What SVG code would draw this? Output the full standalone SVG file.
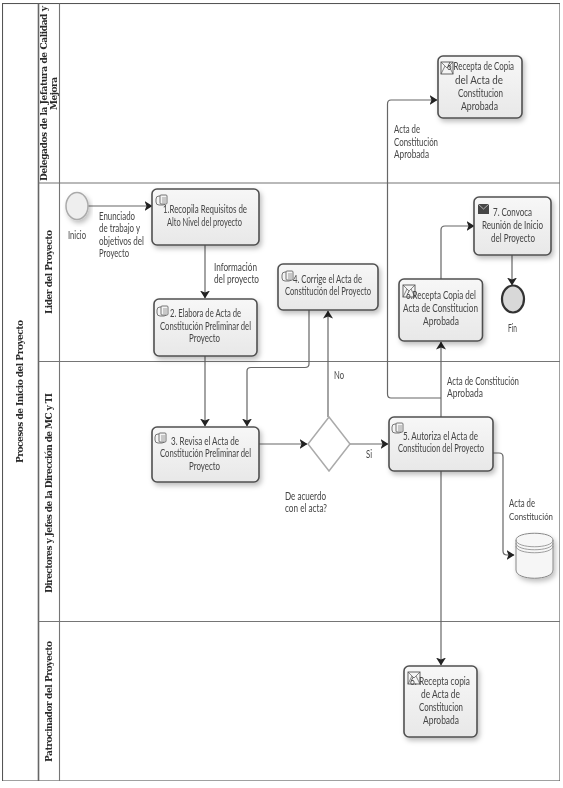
<svg xmlns="http://www.w3.org/2000/svg" width="563" height="788" viewBox="0 0 563 788">
<style>
.lane{fill:none;stroke:#747474;stroke-width:1.100}
.t{font-family:"Lato","Liberation Sans",sans-serif;font-size:10.500px;fill:#444}
.h{font-family:"DejaVu Serif","Liberation Serif",serif;font-weight:bold;font-size:9px;fill:#2a2a2a}
.n{fill:url(#g);stroke:#505050;stroke-width:1.600}
.c{fill:none;stroke:#666;stroke-width:1.200;marker-end:url(#a)}
.i{fill:#f4f4f4;stroke:#666;stroke-width:.9}
</style>
<defs>
<linearGradient id="g" x1="0" y1="0" x2="0" y2="1"><stop offset="0" stop-color="#f7f7f7"/><stop offset="1" stop-color="#e8e8e8"/></linearGradient>
<filter id="s" x="-15%" y="-15%" width="135%" height="140%"><feDropShadow dx="2" dy="3" stdDeviation="2.500" flood-color="#000" flood-opacity=".25"/></filter>
<filter id="b" x="0" y="0" width="100%" height="100%"><feGaussianBlur stdDeviation=".35"/></filter>
<marker id="a" markerUnits="userSpaceOnUse" markerWidth="9" markerHeight="10" refX="7.500" refY="5" orient="auto"><path d="M0 0L8 5L0 10L2 5Z" fill="#222"/></marker>
<symbol id="doc" overflow="visible"><rect class="i" x="0" y="1" width="10" height="9" rx="3"/><rect class="i" x="4" y="0" width="7" height="9" rx="1"/><path d="M6 3h4M6 5h4M6 7h4" stroke="#777" stroke-width=".7"/></symbol>
<symbol id="env" overflow="visible"><rect x="0" y="0" width="12" height="12" fill="#f4f4f4" stroke="#555" stroke-width=".9"/><path d="M0 0L6 6L12 0M0 12L4 4M12 12L8 4" fill="none" stroke="#555" stroke-width=".7"/></symbol>
</defs>
<rect width="563" height="788" fill="#fff"/>
<g filter="url(#b)">
<g id="pool">
<rect class="lane" x="2.500" y="3.500" width="557.500" height="777.500" style="stroke:#555"/>
<path class="lane" d="M38.500 3.500V781" style="stroke-width:1.600;stroke:#666"/>
<path class="lane" d="M59.500 3.500V781M38.500 183H560M38.500 361.500H560M38.500 621.500H560"/>
<text class="h" transform="translate(23 463) rotate(-90)" textLength="143">Procesos de Inicio del Proyecto</text>
<text class="h" transform="translate(47 181) rotate(-90)" textLength="175">Delegados de la Jefatura de Calidad y</text>
<text class="h" transform="translate(57 110) rotate(-90)" textLength="33">Mejora</text>
<text class="h" transform="translate(52 314) rotate(-90)" textLength="84">Lider del Proyecto</text>
<text class="h" transform="translate(52 593) rotate(-90)" textLength="200">Directores y Jefes de la Dirección de MC y TI</text>
<text class="h" transform="translate(52 762) rotate(-90)" textLength="121">Patrocinador del Proyecto</text>
</g>
<g id="connectors">
<path class="c" d="M88 206H152"/>
<path class="c" d="M205 245V298"/>
<path class="c" d="M205 356V426"/>
<path class="c" d="M309 310V364Q309 367.500 305 367.500H251Q247 367.500 247 371V426"/>
<path class="c" d="M259 444H307"/>
<path class="c" d="M328 417V311"/>
<path class="c" d="M350 444H388"/>
<path class="c" d="M441 417V342"/>
<path class="c" d="M441 398H391Q387.500 398 387.500 394V104Q387.500 100 391 100H437"/>
<path class="c" d="M441 279V230Q441 226 445 226H474"/>
<path class="c" d="M512 255V285"/>
<path class="c" d="M441 471V665"/>
<path class="c" d="M493 453H499Q503 453 503 457V551Q503 555 507 555H514"/>
</g>
<g id="start"><ellipse cx="77" cy="206" rx="11" ry="13.500" fill="#eee" stroke="#aaa" stroke-width="1.500" filter="url(#s)"/><text class="t" x="68" y="239" textLength="18" lengthAdjust="spacingAndGlyphs">Inicio</text></g>
<g id="t1"><rect class="n" x="152" y="189" width="107" height="56" rx="5" filter="url(#s)"/><use href="#doc" x="156" y="195"/><text class="t" x="163" y="213" textLength="84" lengthAdjust="spacingAndGlyphs">1.Recopila Requisitos de</text><text class="t" x="167" y="226" textLength="75" lengthAdjust="spacingAndGlyphs">Alto Nivel del proyecto</text></g>
<g id="t2"><rect class="n" x="154" y="299" width="103" height="57" rx="5" filter="url(#s)"/><use href="#doc" x="157" y="306"/><text class="t" x="170" y="317" textLength="71" lengthAdjust="spacingAndGlyphs">2. Elabora de Acta de</text><text class="t" x="160" y="330" textLength="91" lengthAdjust="spacingAndGlyphs">Constitución Preliminar del</text><text class="t" x="189" y="342" textLength="31" lengthAdjust="spacingAndGlyphs">Proyecto</text></g>
<g id="t3"><rect class="n" x="152" y="427" width="107" height="55" rx="5" filter="url(#s)"/><use href="#doc" x="155" y="433"/><text class="t" x="171" y="445" textLength="68" lengthAdjust="spacingAndGlyphs">3. Revisa el Acta de</text><text class="t" x="160" y="457" textLength="91" lengthAdjust="spacingAndGlyphs">Constitución Preliminar del</text><text class="t" x="189" y="470" textLength="31" lengthAdjust="spacingAndGlyphs">Proyecto</text></g>
<g id="t4"><rect class="n" x="278" y="264" width="100" height="46" rx="5" filter="url(#s)"/><use href="#doc" x="282" y="271"/><text class="t" x="293" y="283" textLength="69" lengthAdjust="spacingAndGlyphs">4. Corrige el Acta de</text><text class="t" x="285" y="295" textLength="86" lengthAdjust="spacingAndGlyphs">Constitución del Proyecto</text></g>
<g id="gw"><path d="M329 417L350 444L329 471L308 444Z" fill="#fff" stroke="#aaa" stroke-width="1.500"/></g>
<g id="t5"><rect class="n" x="389" y="417" width="104" height="54" rx="5" filter="url(#s)"/><use href="#doc" x="392" y="423"/><text class="t" x="403" y="440" textLength="75" lengthAdjust="spacingAndGlyphs">5. Autoriza el Acta de</text><text class="t" x="398" y="452" textLength="86" lengthAdjust="spacingAndGlyphs">Constitucion del Proyecto</text></g>
<g id="t6a"><rect class="n" x="438" y="56" width="84" height="62" rx="5" filter="url(#s)"/><use href="#env" x="441" y="62"/><text class="t" x="447" y="70" textLength="67" lengthAdjust="spacingAndGlyphs">6 Recepta de Copia</text><text class="t" x="455" y="84" textLength="48" lengthAdjust="spacingAndGlyphs">del Acta de</text><text class="t" x="458" y="97" textLength="45" lengthAdjust="spacingAndGlyphs">Constitucion</text><text class="t" x="461" y="110" textLength="37" lengthAdjust="spacingAndGlyphs">Aprobada</text></g>
<g id="t6b"><rect class="n" x="399" y="279" width="83.500" height="62" rx="5" filter="url(#s)"/><use href="#env" x="403" y="285"/><text class="t" x="406" y="299" textLength="70" lengthAdjust="spacingAndGlyphs">6.Recepta  Copia del</text><text class="t" x="403" y="312" textLength="75" lengthAdjust="spacingAndGlyphs">Acta de Constitucion</text><text class="t" x="423" y="325" textLength="36" lengthAdjust="spacingAndGlyphs">Aprobada</text></g>
<g id="t7"><rect class="n" x="474" y="197" width="77" height="58" rx="5" filter="url(#s)"/><rect x="478" y="204" width="11" height="10" fill="#444"/><path d="M478 204L483.500 209L489 204" fill="none" stroke="#ccc" stroke-width=".8"/><text class="t" x="493" y="216" textLength="39" lengthAdjust="spacingAndGlyphs">7. Convoca</text><text class="t" x="482" y="229" textLength="61" lengthAdjust="spacingAndGlyphs">Reunión de Inicio</text><text class="t" x="491" y="242" textLength="44" lengthAdjust="spacingAndGlyphs">del Proyecto</text></g>
<g id="end"><ellipse cx="513" cy="299" rx="11" ry="13.500" fill="#d8d8d8" stroke="#333" stroke-width="2.200"/><text class="t" x="508" y="332" textLength="9" lengthAdjust="spacingAndGlyphs">Fin</text></g>
<g id="db"><path d="M516 540C516 531 553 531 553 540V570C553 581 516 581 516 570Z" fill="#f6f6f6" stroke="#888" filter="url(#s)"/><path d="M516 540C516 549 553 549 553 540M516 543C516 552 553 552 553 543M516 546C516 555 553 555 553 546" fill="none" stroke="#888" stroke-width=".8"/></g>
<g id="t6c"><rect class="n" x="404" y="666" width="73" height="71" rx="5" filter="url(#s)"/><use href="#env" x="408" y="672"/><text class="t" x="410" y="685" textLength="60" lengthAdjust="spacingAndGlyphs">6. Recepta copia</text><text class="t" x="421" y="698" textLength="39" lengthAdjust="spacingAndGlyphs">de Acta de</text><text class="t" x="419" y="711" textLength="44" lengthAdjust="spacingAndGlyphs">Constitucion</text><text class="t" x="423" y="724" textLength="36" lengthAdjust="spacingAndGlyphs">Aprobada</text></g>
<g id="labels">
<text class="t" x="99" y="220" textLength="36" lengthAdjust="spacingAndGlyphs">Enunciado</text><text class="t" x="99" y="232" textLength="41" lengthAdjust="spacingAndGlyphs">de trabajo y</text><text class="t" x="99" y="245" textLength="45" lengthAdjust="spacingAndGlyphs">objetivos del</text><text class="t" x="99" y="257" textLength="30" lengthAdjust="spacingAndGlyphs">Proyecto</text>
<text class="t" x="214" y="271" textLength="43" lengthAdjust="spacingAndGlyphs">Información</text><text class="t" x="214" y="283" textLength="45" lengthAdjust="spacingAndGlyphs">del proyecto</text>
<text class="t" x="394" y="133" textLength="26" lengthAdjust="spacingAndGlyphs">Acta de</text><text class="t" x="394" y="146" textLength="44" lengthAdjust="spacingAndGlyphs">Constitución</text><text class="t" x="394" y="158" textLength="35" lengthAdjust="spacingAndGlyphs">Aprobada</text>
<text class="t" x="334" y="379" textLength="10" lengthAdjust="spacingAndGlyphs">No</text>
<text class="t" x="447" y="385" textLength="72" lengthAdjust="spacingAndGlyphs">Acta de Constitución</text><text class="t" x="447" y="397" textLength="36" lengthAdjust="spacingAndGlyphs">Aprobada</text>
<text class="t" x="366" y="458" textLength="6" lengthAdjust="spacingAndGlyphs">Si</text>
<text class="t" x="285" y="500" textLength="41" lengthAdjust="spacingAndGlyphs">De acuerdo</text><text class="t" x="285" y="512" textLength="42" lengthAdjust="spacingAndGlyphs">con el acta?</text>
<text class="t" x="509" y="507" textLength="26" lengthAdjust="spacingAndGlyphs">Acta de</text><text class="t" x="509" y="520" style="font-size:9px" textLength="44" lengthAdjust="spacingAndGlyphs">Constitución</text>
</g>
</g>
</svg>
